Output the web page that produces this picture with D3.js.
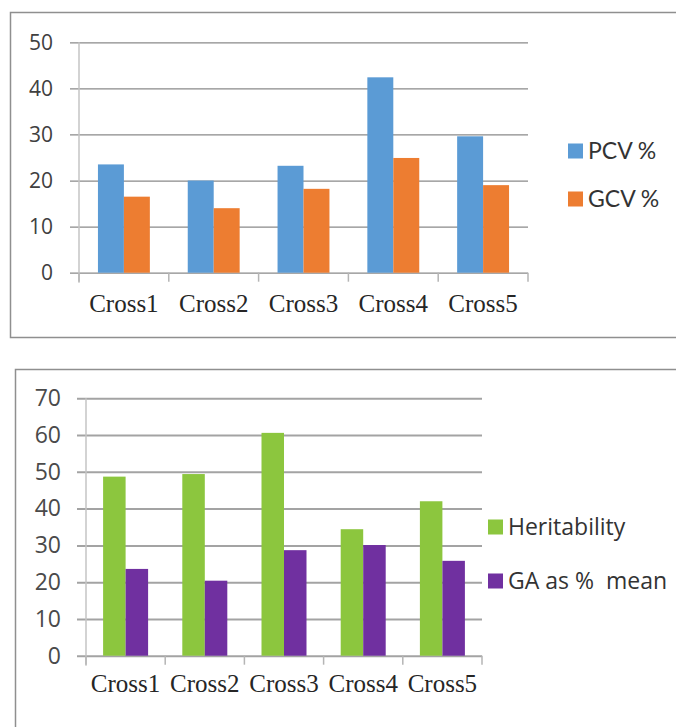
<!DOCTYPE html>
<html lang="en">
  <head>
    <meta charset="utf-8">
    <title>PCV GCV Heritability</title>
    <style type="text/css">
      body{
        margin: 0;
        background: #fff;
      }
      svg text{
        font-family: "Open Sans", sans-serif;
        white-space: pre;
      }
      .cat text{
        font-family: "Liberation Serif", serif;
      }
    </style>
    <script src="https://cdn.jsdelivr.net/npm/d3@7"></script>
  </head>
  <body>
    <svg id="chart" width="676" height="727"></svg>
    <script type="text/javascript">
      //categories on the x axis (same for both charts)
      var crosses = ["Cross1", "Cross2", "Cross3", "Cross4", "Cross5"];

      //top chart values
      var pcv = [23.5, 20.0, 23.2, 42.4, 29.6];
      var gcv = [16.5, 14.0, 18.2, 24.9, 19.0];
      var topSeries = ["PCV %", "GCV %"];
      var topTicks = [0, 10, 20, 30, 40, 50];

      //bottom chart values
      var heritability = [48.7, 49.4, 60.6, 34.4, 42.0];
      var gaMean = [23.6, 20.4, 28.7, 30.1, 25.8];
      var bottomSeries = ["Heritability", "GA as %  mean"];
      var bottomTicks = [0, 10, 20, 30, 40, 50, 60, 70];

      var svg = d3.select("#chart");

      //draws one framed bar chart
      function drawChart(cfg){
        var g = svg.append("g");

        //frame round the chart
        g.append("rect")
          .attr("x", cfg.frame[0] + 0.5)
          .attr("y", cfg.frame[1] + 0.5)
          .attr("width", cfg.frame[2])
          .attr("height", cfg.frame[3])
          .attr("fill", "none")
          .attr("stroke", "#8f8f8f")
          .attr("stroke-width", 1.5);

        var x = d3.scaleBand()
          .domain(crosses)
          .range([cfg.left, cfg.right]);

        var xSub = d3.scaleBand()
          .domain(cfg.series)
          .range([0, x.bandwidth()])
          .paddingOuter(cfg.outer);

        var y = d3.scaleLinear()
          .domain([0, d3.max(cfg.ticks)])
          .range([cfg.bottom, cfg.top]);

        //gridlines and y labels
        var yAxis = g.append("g")
          .attr("transform", `translate(${cfg.left - 9},0)`)
          .call(d3.axisLeft(y)
            .tickValues(cfg.ticks)
            .tickSizeInner(-(cfg.right - cfg.left + 9))
            .tickSizeOuter(0)
            .tickPadding(cfg.labelPad));
        yAxis.select(".domain").remove();
        yAxis.selectAll("line")
          .attr("stroke", cfg.gridColor)
          .attr("stroke-width", cfg.gridWidth);
        yAxis.selectAll("text")
          .attr("fill", cfg.yColor)
          .style("font-size", cfg.yFont + "px");

        //vertical axis line
        g.append("line")
          .attr("x1", cfg.left).attr("x2", cfg.left)
          .attr("y1", y(d3.max(cfg.ticks))).attr("y2", cfg.bottom + 10)
          .attr("stroke", "#c4c4c4")
          .attr("stroke-width", 1.5);

        //category boundary ticks
        g.selectAll(".bt")
          .data(crosses.concat(["end"]))
          .enter()
          .append("line")
          .attr("x1", d => d == "end" ? cfg.right : x(d))
          .attr("x2", d => d == "end" ? cfg.right : x(d))
          .attr("y1", cfg.bottom)
          .attr("y2", cfg.bottom + 9)
          .attr("stroke", "#b5b5b5")
          .attr("stroke-width", 1.5);

        //bars
        cfg.values.forEach(function(vals, si){
          g.selectAll(".bar" + si)
            .data(crosses.map((c, i) => [c, vals[i]]))
            .enter()
            .append("rect")
            .attr("x", d => x(d[0]) + xSub(cfg.series[si]))
            .attr("y", d => y(d[1]))
            .attr("width", xSub.bandwidth())
            .attr("height", d => cfg.bottom - y(d[1]))
            .attr("fill", cfg.colors[si]);
        });

        //category labels
        var xAxis = g.append("g")
          .attr("class", "cat")
          .attr("transform", `translate(0,${cfg.bottom})`)
          .call(d3.axisBottom(x).tickSize(0).tickPadding(cfg.catPad));
        xAxis.select(".domain").remove();
        xAxis.selectAll("text")
          .attr("fill", "#262626")
          .style("font-size", cfg.catFont + "px");

        //legend
        var leg = g.selectAll(".leg")
          .data(cfg.series)
          .enter()
          .append("g")
          .attr("transform", (d, i) => `translate(${cfg.legX},${cfg.legY[i]})`);
        leg.append("rect")
          .attr("x", 0)
          .attr("y", -cfg.sq / 2)
          .attr("width", cfg.sq)
          .attr("height", cfg.sq)
          .attr("fill", (d, i) => cfg.colors[i]);
        leg.append("text")
          .attr("x", cfg.sq + 5)
          .attr("dy", "0.35em")
          .attr("fill", "#333")
          .style("font-size", cfg.legFont + "px")
          .style("font-family", cfg.legFamily)
          .text(d => d);
      }

      drawChart({
        frame: [10, 12, 680, 325],
        left: 79, right: 528, top: 42.3, bottom: 272.7,
        ticks: topTicks,
        series: topSeries,
        values: [pcv, gcv],
        colors: ["#5b9bd5", "#ed7d31"],
        outer: 0.73,
        gridColor: "#8a8a8a", gridWidth: 1.2,
        yColor: "#404040", yFont: 21, labelPad: 17,
        catFont: 25, catPad: 22,
        legX: 568, legY: [151, 199], sq: 15, legFont: 23,
        legFamily: "Lato, sans-serif"
      });

      drawChart({
        frame: [15, 369, 680, 400],
        left: 86, right: 482, top: 398.3, bottom: 655.7,
        ticks: bottomTicks,
        series: bottomSeries,
        values: [heritability, gaMean],
        colors: ["#8cc63e", "#7030a0"],
        outer: 0.76,
        gridColor: "#a3a3a3", gridWidth: 2,
        yColor: "#4a4a4a", yFont: 23, labelPad: 16,
        catFont: 25, catPad: 19,
        legX: 488, legY: [527, 581], sq: 15, legFont: 23,
        legFamily: "'Open Sans', sans-serif"
      });
    </script>
  </body>
</html>
